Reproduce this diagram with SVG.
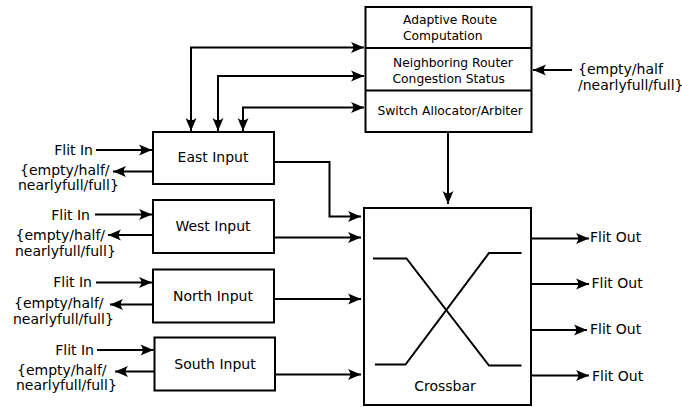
<svg xmlns="http://www.w3.org/2000/svg" width="682" height="407" viewBox="0 0 682 407">
<style>
text { font-family: "DejaVu Sans", "Liberation Sans", sans-serif; font-size: 14px; fill: #000; }
.small { font-size: 12.3px; }
.box { fill: #fff; stroke: #000; stroke-width: 2; }
.ln { fill: none; stroke: #000; stroke-width: 2; }
.c { text-anchor: middle; }
.e { text-anchor: end; }
</style>
<defs>
<marker id="ah" markerUnits="userSpaceOnUse" viewBox="-14 -7 15 14" refX="0" refY="0" markerWidth="15" markerHeight="14" orient="auto-start-reverse">
<path d="M0,0 L-13,-5.5 Q-8.5,0 -13,5.5 Z" fill="#000"/>
</marker>
</defs>
<rect width="682" height="407" fill="#fff"/>

<g id="control">
<rect class="box" x="365.5" y="7" width="166" height="125"/>
<line class="ln" x1="365.5" y1="48" x2="531.5" y2="48"/>
<line class="ln" x1="365.5" y1="90.5" x2="531.5" y2="90.5"/>
<text class="small" x="403" y="24">Adaptive Route</text>
<text class="small" x="403" y="39.5">Computation</text>
<text class="small" x="393" y="67">Neighboring Router</text>
<text class="small" x="392.5" y="82.5">Congestion Status</text>
<text class="small" x="377.5" y="115">Switch Allocator/Arbiter</text>
</g>

<g id="east">
<rect class="box" x="153" y="132" width="121" height="52"/>
<text class="c" x="213" y="162">East Input</text>
<text class="e" x="93" y="154.5">Flit In</text>
<text x="20" y="174.5">{empty/half/</text>
<text x="18" y="189.5">nearlyfull/full}</text>
</g>

<g id="west">
<rect class="box" x="153" y="200" width="121" height="53"/>
<text class="c" x="213" y="231">West Input</text>
<text class="e" x="90" y="219.5">Flit In</text>
<text x="15.5" y="239.5">{empty/half/</text>
<text x="15" y="256">nearlyfull/full}</text>
</g>

<g id="north">
<rect class="box" x="153" y="269.5" width="121" height="53"/>
<text class="c" x="213" y="301">North Input</text>
<text class="e" x="92" y="287">Flit In</text>
<text x="14" y="307.5">{empty/half/</text>
<text x="13" y="324">nearlyfull/full}</text>
</g>

<g id="south">
<rect class="box" x="154.5" y="337.5" width="120.5" height="53"/>
<text class="c" x="215" y="369">South Input</text>
<text class="e" x="94" y="354.5">Flit In</text>
<text x="17" y="375">{empty/half/</text>
<text x="16" y="389.5">nearlyfull/full}</text>
</g>

<g id="crossbar">
<rect class="box" x="364" y="208" width="167" height="197"/>
<path class="ln" d="M373,258.5 H406.5 L489,365.5 H521.5"/>
<path class="ln" d="M375,364.5 H405.5 L489,253 H521.5"/>
<text class="c" x="445" y="391">Crossbar</text>
</g>

<g id="status-in">
<text x="578" y="74">{empty/half</text>
<text x="578" y="89.5">/nearlyfull/full}</text>
</g>

<g id="outputs">
<text x="590" y="242">Flit Out</text>
<text x="591.5" y="287.5">Flit Out</text>
<text x="590" y="334">Flit Out</text>
<text x="592" y="381">Flit Out</text>
</g>

<g id="connectors" class="ln" marker-end="url(#ah)">
<path class="ln" d="M96,150 H152" marker-end="url(#ah)"/>
<path class="ln" d="M153,171.5 H113" marker-end="url(#ah)"/>
<path class="ln" d="M95,214.5 H152" marker-end="url(#ah)"/>
<path class="ln" d="M153,235 H108" marker-end="url(#ah)"/>
<path class="ln" d="M96,282.5 H152" marker-end="url(#ah)"/>
<path class="ln" d="M153,304.5 H110" marker-end="url(#ah)"/>
<path class="ln" d="M97,350 H153.5" marker-end="url(#ah)"/>
<path class="ln" d="M154.5,371.5 H115" marker-end="url(#ah)"/>
<path class="ln" d="M191,131 V47.5 H364" marker-start="url(#ah)" marker-end="url(#ah)"/>
<path class="ln" d="M218,131 V76 H364" marker-start="url(#ah)" marker-end="url(#ah)"/>
<path class="ln" d="M243,131 V107.5 H364" marker-start="url(#ah)" marker-end="url(#ah)"/>
<path class="ln" d="M572,70 H533" marker-end="url(#ah)"/>
<path class="ln" d="M448,133 V204" marker-end="url(#ah)"/>
<path class="ln" d="M274,162 H329.5 V216.5 H361" marker-end="url(#ah)"/>
<path class="ln" d="M274,237.5 H361" marker-end="url(#ah)"/>
<path class="ln" d="M274,299 H361" marker-end="url(#ah)"/>
<path class="ln" d="M275,374.5 H361" marker-end="url(#ah)"/>
<path class="ln" d="M531,238.5 H589" marker-end="url(#ah)"/>
<path class="ln" d="M532,284 H589" marker-end="url(#ah)"/>
<path class="ln" d="M531,330 H587" marker-end="url(#ah)"/>
<path class="ln" d="M531,375.5 H589" marker-end="url(#ah)"/>
</g>
</svg>
